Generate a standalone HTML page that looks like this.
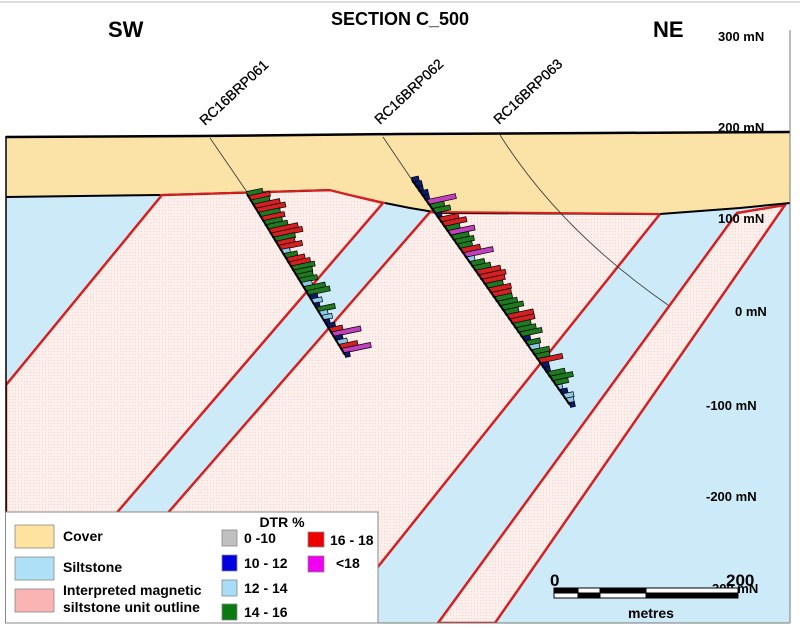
<!DOCTYPE html>
<html><head><meta charset="utf-8"><style>
html,body{margin:0;padding:0;background:#fff;}
svg{display:block;font-family:"Liberation Sans",Arial,sans-serif;}
</style></head><body>
<svg id="s" width="800" height="630" viewBox="0 0 800 630" xmlns="http://www.w3.org/2000/svg">
<defs>
<pattern id="dots" width="3" height="3" patternUnits="userSpaceOnUse">
<rect width="3" height="3" fill="#fcefec"/><rect width="1" height="1" fill="#f2d2ca"/>
</pattern>
<clipPath id="fr"><rect x="6" y="0" width="784" height="623"/></clipPath>
</defs>
<rect x="0" y="0" width="800" height="630" fill="#fff"/>
<line x1="0" y1="2" x2="800" y2="2" stroke="#bbb" stroke-width="1"/>
<g clip-path="url(#fr)">
<rect x="6" y="190" width="784" height="433" fill="#cdeaf8"/>
<polygon points="162,195 330,190 350,195 383,203 22,623 6,623 6,385" fill="url(#dots)" stroke="#d42020" stroke-width="2.5"/>
<polygon points="430,212 660,214 333,623 72,623" fill="url(#dots)" stroke="#d42020" stroke-width="2.5"/>
<polygon points="737,213 785,205 495,623 438,623" fill="url(#dots)" stroke="#d42020" stroke-width="2.5"/>
<polygon points="6,137 200,136 400,134 600,133 790,132 790,203 740,208 700,211 660,214 440,213 410,208 385,203 350,195 330,190 160,195 6,197" fill="#fbe3a8"/>
<polyline points="6,137 200,136 400,134 600,133 790,132" fill="none" stroke="#000" stroke-width="2.5"/>
<polyline points="6,197 160,195 330,190" fill="none" stroke="#000" stroke-width="2"/>
<polyline points="160,195 330,190 350,195 385,203" fill="none" stroke="#d42020" stroke-width="2"/>
<polyline points="385,203 410,208 440,213 660,214 700,211 740,208 790,203" fill="none" stroke="#000" stroke-width="2"/>
<line x1="430" y1="212" x2="660" y2="214" stroke="#d42020" stroke-width="2"/>
<line x1="210" y1="138" x2="247" y2="192" stroke="#333" stroke-width="0.8"/>
<line x1="383" y1="137" x2="412" y2="180" stroke="#333" stroke-width="0.8"/>
<path d="M500,135 Q560,230 668,305" fill="none" stroke="#333" stroke-width="0.8"/>
<g id="bars"></g>
</g>
<line x1="6" y1="136" x2="6" y2="623" stroke="#000" stroke-width="1.5"/>
<line x1="790" y1="30" x2="790" y2="623" stroke="#777" stroke-width="1"/>
<line x1="6" y1="623" x2="790" y2="623" stroke="#777" stroke-width="1"/>
<g font-weight="bold" fill="#000">
<text x="108" y="37" font-size="22">SW</text>
<text x="400" y="25" font-size="18" text-anchor="middle">SECTION C_500</text>
<text x="653" y="37" font-size="22">NE</text>
<g font-size="13">
<text x="718" y="41">300  mN</text>
<text x="718" y="132">200  mN</text>
<text x="718" y="223">100  mN</text>
<text x="735" y="316">0  mN</text>
<text x="706" y="410">-100  mN</text>
<text x="706" y="501">-200  mN</text>
<text x="712" y="593">300  mN</text>
</g>
</g>
<g font-size="14" fill="#000" stroke="#000" stroke-width="0.3">
<text transform="translate(205,126) rotate(-43)">RC16BRP061</text>
<text transform="translate(380,125) rotate(-43)">RC16BRP062</text>
<text transform="translate(499,125) rotate(-43)">RC16BRP063</text>
</g>
<g stroke="#000" stroke-width="1">
<rect x="554" y="588" width="184" height="10" fill="#fff"/>
<rect x="554" y="588" width="24" height="5" fill="#000"/>
<rect x="578" y="593" width="22" height="5" fill="#000"/>
<rect x="600" y="588" width="46" height="5" fill="#000"/>
<rect x="646" y="593" width="92" height="5" fill="#000"/>
</g>
<g font-weight="bold" fill="#000">
<text x="550" y="586" font-size="17">0</text>
<text x="726" y="586" font-size="17">200</text>
<text x="628" y="618" font-size="14">metres</text>
</g>
<rect x="5.5" y="512" width="372.5" height="111" fill="#fff" stroke="#888" stroke-width="1"/>
<g stroke="#888" stroke-width="0.8">
<rect x="15" y="525" width="39" height="23" fill="#fde39f"/>
<rect x="15" y="557" width="39" height="23" fill="#aee0f7"/>
<rect x="15" y="589" width="39" height="23" fill="#fbb4b4"/>
<rect x="222" y="530" width="15" height="16" fill="#c0c0c0"/>
<rect x="222" y="555" width="15" height="16" fill="#0000e0"/>
<rect x="222" y="580" width="15" height="16" fill="#a8dcf8"/>
<rect x="222" y="604" width="15" height="16" fill="#0a7a10"/>
<rect x="308" y="532" width="16" height="15" fill="#ee0000"/>
<rect x="308" y="556" width="16" height="16" fill="#f000f0"/>
</g>
<g font-weight="bold" font-size="14" fill="#000">
<text x="63" y="541">Cover</text>
<text x="63" y="572">Siltstone</text>
<text x="63" y="595">Interpreted magnetic</text>
<text x="63" y="612">siltstone unit outline</text>
<text x="282" y="527" text-anchor="middle">DTR %</text>
<text x="244" y="543">0 -10</text>
<text x="244" y="568">10 - 12</text>
<text x="244" y="593">12 - 14</text>
<text x="244" y="617">14 - 16</text>
<text x="330" y="545">16 - 18</text>
<text x="336" y="568">&lt;18</text>
</g>
</svg>
<script>
(function(){
var C={G:"#1f7a1f",R:"#d42020",L:"#8cc8e8",N:"#0a1a6e",M:"#c040c0"};
var g=document.getElementById("bars");
function hole(x0,y0,x1,y1,seq,lens,k){
 var n=seq.length,h="";
 for(var i=0;i<n;i++){
  var t=i/(n-1),x=x0+(x1-x0)*t,y=y0+(y1-y0)*t;
  h+='<rect x="'+x.toFixed(1)+'" y="'+(y-2.5).toFixed(1)+'" width="'+Math.round(lens[i]*k)+'" height="5" fill="'+C[seq[i]]+'" stroke="#000" stroke-width="0.7" transform="rotate(-12 '+x.toFixed(1)+' '+y.toFixed(1)+')"/>';
 }
 h+='<line x1="'+x0+'" y1="'+y0+'" x2="'+x1+'" y2="'+y1+'" stroke="#000" stroke-width="2"/>';
 g.insertAdjacentHTML("beforeend",h);
}
var s1="GRGRRGRGGRRGRRLGRRGGGGLGGNLNGLLNNRMNLRMN".split("");
var l1=[12,16,14,20,22,16,18,14,16,22,24,16,14,18,6,10,14,16,18,14,12,14,8,16,18,6,8,4,14,6,8,4,6,10,22,6,8,14,22,4];
hole(247,194,345,355,s1,l1,1.3);
var s2="NNNNNMGGNRRGMGGGRMLGGRRRGRRGGGGRRGGGNGLGGRNNGGGLNLLN".split("");
var l2=[6,6,4,6,4,24,12,14,4,16,20,12,22,14,16,12,16,24,6,12,14,20,22,18,14,18,16,14,16,18,12,22,20,14,16,18,6,12,8,14,12,20,6,4,14,18,12,4,6,8,6,4];
hole(412,180,570,405,s2,l2,1.2);
})();
</script>
</body></html>
